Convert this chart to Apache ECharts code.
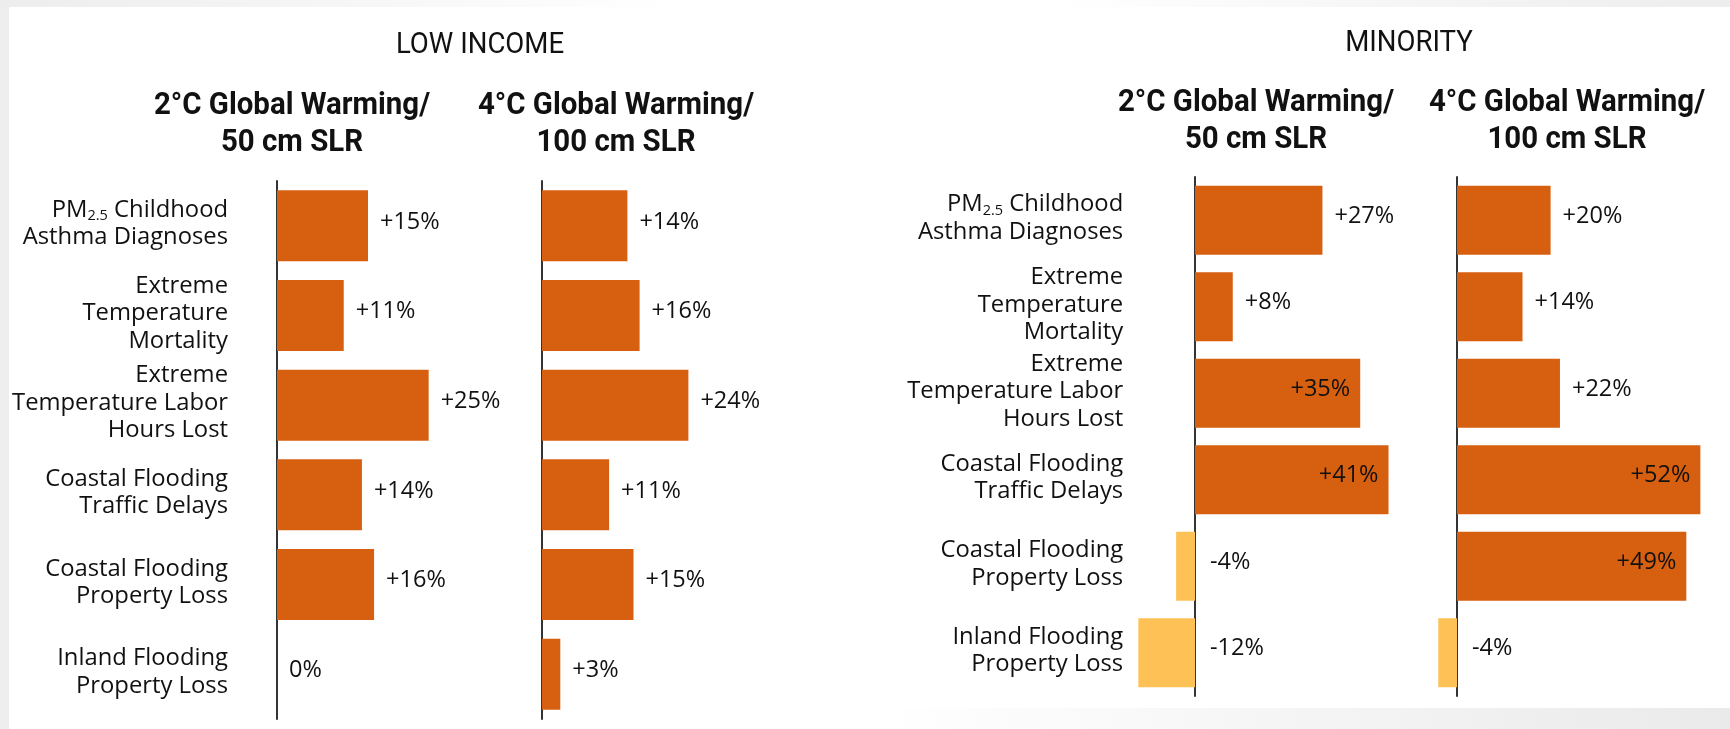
<!DOCTYPE html>
<html>
<head>
<meta charset="utf-8">
<title>Climate impacts by social vulnerability</title>
<script src="https://cdn.jsdelivr.net/npm/echarts@6/dist/echarts.min.js"></script>
<style>
  html, body { margin: 0; padding: 0; background: #ffffff; }
  #chart { width: 1730px; height: 729px; }
</style>
</head>
<body>
<div id="chart"></div>
<script>
// Impact categories (top to bottom)
const categories = [
  'PM2.5 Childhood\nAsthma Diagnoses',
  'Extreme\nTemperature\nMortality',
  'Extreme\nTemperature Labor\nHours Lost',
  'Coastal Flooding\nTraffic Delays',
  'Coastal Flooding\nProperty Loss',
  'Inland Flooding\nProperty Loss'
];

// Percent change in impact, by group and scenario
const lowIncome2C = [15, 11, 25, 14, 16, 0];
const lowIncome4C = [14, 16, 24, 11, 15, 3];
const minority2C  = [27, 8, 35, 41, -4, -12];
const minority4C  = [20, 14, 22, 52, 49, -4];

// Headings
const groupTitles = ['LOW INCOME', 'MINORITY'];
const scenarioTitles = ['2°C Global Warming/\n50 cm SLR', '4°C Global Warming/\n100 cm SLR'];

const ORANGE = '#D75F10';
const YELLOW = '#FDC156';
const INK = '#111111';
const BODY_FONT = '"Open Sans", "Noto Sans", sans-serif';
const HEAD_FONT = 'Roboto, "Noto Sans", sans-serif';

const fmtPct = v => (v > 0 ? '+' + v : String(v)) + '%';

// Panel layout: grid placement and value-axis range for each chart.
// Category labels sit `margin` px left of the grid's left edge.
const panels = [
  { values: lowIncome2C, grid: { left: 277,    width: 182,   top: 181, height: 538 }, min: 0,   max: 30, barWidth: 71, labels: true,  margin: 49 },
  { values: lowIncome4C, grid: { left: 542,    width: 183,   top: 181, height: 538 }, min: 0,   max: 30, barWidth: 71, labels: false, margin: 49 },
  { values: minority2C,  grid: { left: 1124.2, width: 283.2, top: 177, height: 519 }, min: -15, max: 45, barWidth: 69, labels: true,  margin: 1 },
  { values: minority4C,  grid: { left: 1410.2, width: 304.2, top: 177, height: 519 }, min: -10, max: 55, barWidth: 69, labels: false, margin: 1 }
];

const INSIDE_FROM = 30; // long bars carry their value inside the bar end

// Condensed heading text (a regular face squeezed horizontally)
function heading(text, x, y, size, weight, lineHeight) {
  return {
    type: 'text', x: x, y: y, scaleX: 0.92, silent: true,
    style: {
      text: text, fontFamily: HEAD_FONT, fontSize: size, fontWeight: weight,
      lineHeight: lineHeight, fill: INK, align: 'center', verticalAlign: 'middle'
    }
  };
}

const option = {
  backgroundColor: '#ffffff',
  animation: false,
  grid: panels.map(p => Object.assign({ containLabel: false }, p.grid)),
  xAxis: panels.map((p, i) => ({
    type: 'value', gridIndex: i, min: p.min, max: p.max,
    show: false, splitLine: { show: false }
  })),
  yAxis: panels.map((p, i) => ({
    type: 'category', gridIndex: i, data: categories, inverse: true,
    axisTick: { show: false },
    axisLine: { show: true, onZero: true, lineStyle: { color: '#333333', width: 2 } },
    splitLine: { show: false },
    axisLabel: {
      show: p.labels,
      margin: p.margin,
      fontFamily: BODY_FONT,
      fontSize: 23.8,
      lineHeight: 27.5,
      color: INK,
      align: 'right',
      padding: [0, 0, 4, 0],
      formatter: v => v.replace('PM2.5', 'PM{sub|2.5}'),
      rich: {
        sub: { fontFamily: BODY_FONT, fontSize: 14.5, color: INK, lineHeight: 17, verticalAlign: 'bottom' }
      }
    }
  })),
  series: panels.map((p, i) => ({
    type: 'bar',
    xAxisIndex: i,
    yAxisIndex: i,
    barWidth: p.barWidth,
    data: p.values.map(v => ({
      value: v,
      itemStyle: { color: v < 0 ? YELLOW : ORANGE },
      label: v >= INSIDE_FROM
        ? { position: 'insideRight', distance: 10 }
        : { position: 'right', distance: v < 0 ? 15 : 12 }
    })),
    label: {
      show: true,
      formatter: d => fmtPct(d.value),
      fontFamily: BODY_FONT,
      fontSize: 23.5,
      color: INK,
      offset: [0, -4]
    }
  })),
  graphic: [
    // soft grey page edges around the white card
    { type: 'rect', silent: true, z: -10, shape: { x: 0, y: 0, width: 9, height: 729 }, style: { fill: '#eeeeee' } },
    { type: 'rect', silent: true, z: -10, shape: { x: 0, y: 0, width: 680, height: 7 },
      style: { fill: { type: 'linear', x: 0, y: 0, x2: 1, y2: 0, colorStops: [{ offset: 0, color: '#ededed' }, { offset: 1, color: '#ffffff' }] } } },
    { type: 'rect', silent: true, z: -10, shape: { x: 1050, y: 0, width: 680, height: 7 },
      style: { fill: { type: 'linear', x: 0, y: 0, x2: 1, y2: 0, colorStops: [{ offset: 0, color: '#ffffff' }, { offset: 1, color: '#ededed' }] } } },
    { type: 'rect', silent: true, z: -10, shape: { x: 880, y: 708, width: 850, height: 21 },
      style: { fill: { type: 'linear', x: 0, y: 0, x2: 1, y2: 0, colorStops: [{ offset: 0, color: '#ffffff' }, { offset: 1, color: '#eaeaea' }] } } },

    // group headings
    heading(groupTitles[0], 480, 45, 30, 'normal', 36),
    heading(groupTitles[1], 1409, 43, 30, 'normal', 36),

    // scenario headings
    heading(scenarioTitles[0], 292, 124.5, 32, 'bold', 37.5),
    heading(scenarioTitles[1], 616, 124.5, 32, 'bold', 37.5),
    heading(scenarioTitles[0], 1256, 121.5, 32, 'bold', 37.5),
    heading(scenarioTitles[1], 1567, 121.5, 32, 'bold', 37.5)
  ]
};

const chart = echarts.init(document.getElementById('chart'), null, { renderer: 'canvas' });
chart.setOption(option);
</script>
</body>
</html>
